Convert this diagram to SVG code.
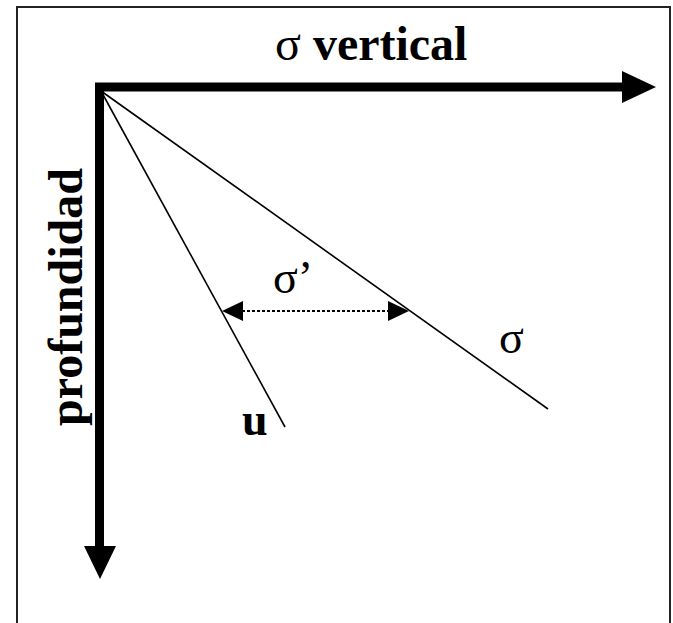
<svg xmlns="http://www.w3.org/2000/svg" width="673" height="623" viewBox="0 0 673 623">
<style>
.lbl{font-family:"Liberation Serif","Times New Roman",serif;fill:#000}
.b{font-weight:bold}
.thin{stroke:#000;stroke-width:1.6;fill:none}
.head{fill:#000}
</style>
<rect width="673" height="623" fill="#fff"/>
<rect id="frame" x="17" y="7" width="653" height="640" fill="none" stroke="#222" stroke-width="2"/>
<g id="connectors">
  <path d="M99.5 547 L99.5 87 L624 87" fill="none" stroke="#000" stroke-width="9" stroke-linejoin="miter"/>
  <polygon class="head" points="622,71 656,87 622,103"/>
  <polygon class="head" points="84,546 116,546 100,579"/>
  <line class="thin" x1="101" y1="91" x2="285" y2="427"/>
  <line class="thin" x1="101" y1="91" x2="548" y2="409"/>
  <line x1="242" y1="311" x2="389" y2="311" stroke="#000" stroke-width="2" stroke-dasharray="3 2"/>
  <polygon class="head" points="222,311 243,301 243,321"/>
  <polygon class="head" points="409,311 388,301 388,321"/>
</g>
<g id="label-sigma-vertical">
  <text class="lbl" x="275" y="60" font-size="48"><tspan>σ</tspan><tspan class="b"> vertical</tspan></text>
</g>
<g id="label-profundidad">
  <text class="lbl b" font-size="48" text-anchor="middle" transform="translate(82 297) rotate(-90)">profundidad</text>
</g>
<g id="label-sigma-prime">
  <text class="lbl" x="273" y="293" font-size="46">σ’</text>
</g>
<g id="label-sigma">
  <text class="lbl" x="499" y="353" font-size="46">σ</text>
</g>
<g id="label-u">
  <text class="lbl b" x="242" y="435" font-size="46">u</text>
</g>
</svg>
